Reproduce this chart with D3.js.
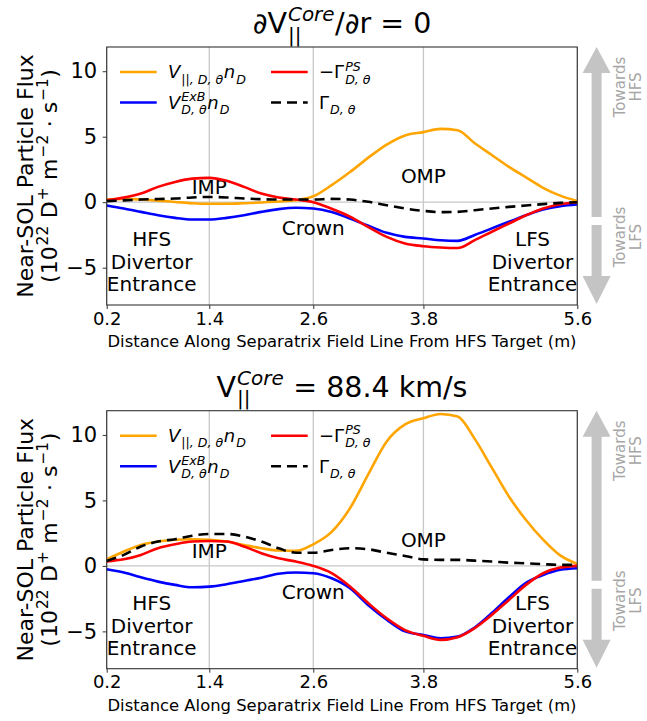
<!DOCTYPE html>
<html>
<head>
<meta charset="utf-8">
<script src="https://cdn.jsdelivr.net/npm/d3@7"></script>
<style>
  html, body { margin: 0; padding: 0; background: #fff; }
  svg { display: block; font-family: "DejaVu Sans", sans-serif; }
</style>
</head>
<body>
<svg id="chart" width="647" height="721"></svg>
<script>
// distance along separatrix (m)
const dist = [0.2, 0.4, 0.6, 0.8, 1.0, 1.2, 1.4, 1.6, 1.8, 2.0, 2.2, 2.4, 2.6, 2.8,
              3.0, 3.2, 3.4, 3.6, 3.8, 4.0, 4.2, 4.4, 4.6, 4.8, 5.0, 5.2, 5.4, 5.6];

// top panel: dV/dr = 0
const parFluxA = [0.2, 0.25, 0.2, 0.12, 0.02, -0.08, -0.12, -0.12, -0.08, -0.02, 0.05, 0.15, 0.45, 1.3,
                  2.3, 3.4, 4.4, 5.1, 5.35, 5.6, 5.5, 4.5, 3.6, 2.7, 1.9, 1.1, 0.5, 0.1];
const exbFluxA = [-0.25, -0.48, -0.74, -1.0, -1.2, -1.32, -1.32, -1.2, -1.0, -0.74, -0.53, -0.43, -0.48, -0.74,
                  -1.25, -1.8, -2.34, -2.65, -2.77, -2.9, -2.95, -2.5, -2.0, -1.5, -1.0, -0.56, -0.3, -0.18];
const psFluxA  = [0.15, 0.35, 0.66, 1.17, 1.55, 1.8, 1.86, 1.63, 1.17, 0.66, 0.36, 0.2, 0.0, -0.5,
                  -1.1, -1.9, -2.65, -3.15, -3.36, -3.46, -3.5, -2.9, -2.26, -1.63, -1.0, -0.48, -0.15, 0.0];
const totFluxA = [0.08, 0.14, 0.2, 0.24, 0.28, 0.36, 0.4, 0.36, 0.28, 0.23, 0.2, 0.2, 0.2, 0.25,
                  0.2, 0.03, -0.23, -0.48, -0.66, -0.76, -0.74, -0.61, -0.48, -0.36, -0.25, -0.15, -0.05, 0.0];

// bottom panel: V core = 88.4 km/s
const parFluxB = [0.5, 1.1, 1.6, 1.86, 2.0, 2.04, 2.0, 1.86, 1.6, 1.35, 1.17, 1.15, 1.65, 2.6,
                  4.4, 7.0, 9.5, 10.8, 11.27, 11.6, 11.4, 9.7, 7.5, 5.3, 3.5, 2.0, 0.8, 0.15];
const exbFluxB = [-0.25, -0.5, -0.87, -1.2, -1.45, -1.63, -1.58, -1.4, -1.15, -0.9, -0.6, -0.5, -0.56, -0.94,
                  -1.7, -3.0, -4.1, -5.0, -5.27, -5.52, -5.4, -4.7, -3.6, -2.4, -1.3, -0.7, -0.3, -0.18];
const psFluxB  = [0.33, 0.5, 0.84, 1.35, 1.65, 1.86, 1.9, 1.86, 1.48, 0.97, 0.58, 0.33, 0.0, -0.56,
                  -1.58, -2.85, -4.0, -4.9, -5.34, -5.65, -5.45, -4.75, -3.74, -2.6, -1.45, -0.56, -0.13, 0.0];
const totFluxB = [0.38, 0.84, 1.48, 1.86, 2.04, 2.3, 2.44, 2.44, 2.24, 1.86, 1.35, 1.0, 1.0, 1.22,
                  1.35, 1.27, 1.0, 0.76, 0.5, 0.46, 0.46, 0.4, 0.33, 0.25, 0.2, 0.13, 0.08, 0.08];

const xTicks = [0.2, 1.4, 2.6, 3.8, 5.6];
const yTicks = [-5, 0, 5, 10];

// annotation labels (x in m, y = text centre in flux units)
const regionLabels = [
  {lines: ["IMP"], x: 1.4, y: 1.17},
  {lines: ["OMP"], x: 3.8, y: 1.98},
  {lines: ["Crown"], x: 2.6, y: -1.98},
  {lines: ["HFS", "Divertor", "Entrance"], x: 0.726, y: -2.83},
  {lines: ["LFS", "Divertor", "Entrance"], x: 5.076, y: -2.83}
];

const panels = [
  {title: [{t: "∂V"}, {sub: "||", subIt: false, sup: "Core"}, {t: "/∂r = 0"}],
   series: [parFluxA, exbFluxA, psFluxA, totFluxA]},
  {title: [{t: "V"}, {sub: "||", subIt: false, sup: "Core"}, {t: " = 88.4 km/s"}],
   series: [parFluxB, exbFluxB, psFluxB, totFluxB]}
];

const seriesStyle = [
  {color: "orange", dash: null, label: [{t: "V", it: true}, {sub: "||, D, θ"}, {t: "n", it: true}, {sub: "D"}]},
  {color: "blue", dash: null, label: [{t: "V", it: true}, {sub: "D, θ", sup: "ExB"}, {t: "n", it: true}, {sub: "D"}]},
  {color: "red", dash: null, label: [{t: "−Γ"}, {sub: "D, θ", sup: "PS"}]},
  {color: "black", dash: "10,6", label: [{t: "Γ"}, {sub: "D, θ"}]}
];

// layout
const left = 106.7, plotW = 470.6, plotH = 258;
const tops = [47, 410.7];
const xBreakFrac = [0, 0.218, 0.439, 0.673, 1];
const gridColor = "#c8c8c8";

const svg = d3.select("#chart");

const nb = s => s.replace(/ /g, "\u00a0");

// lays out text with stacked sub/superscripts, returns group
function mathLabel(parent, x, y, items, size, anchor) {
  const g = parent.append("g");
  let cx = 0;
  items.forEach(it => {
    if (it.t !== undefined) {
      const t = g.append("text").attr("x", cx).attr("y", 0)
        .attr("font-size", size)
        .attr("font-style", it.it ? "italic" : "normal")
        .attr("fill", "#000")
        .text(nb(it.t));
      cx += t.node().getComputedTextLength();
    } else {
      let w = 0;
      if (it.sup) {
        const s = g.append("text").attr("x", cx + 1).attr("y", -size * 0.42)
          .attr("font-size", size * 0.7)
          .attr("font-style", it.supIt === false ? "normal" : "italic")
          .text(nb(it.sup));
        w = Math.max(w, s.node().getComputedTextLength() + 1.5);
      }
      if (it.sub) {
        const s = g.append("text").attr("x", cx + 1).attr("y", size * 0.3)
          .attr("font-size", size * 0.7)
          .attr("font-style", it.subIt === false ? "normal" : "italic")
          .text(nb(it.sub));
        w = Math.max(w, s.node().getComputedTextLength() + 1.5);
      }
      cx += w;
    }
  });
  const shift = anchor === "middle" ? -cx / 2 : (anchor === "end" ? -cx : 0);
  g.attr("transform", "translate(" + (x + shift) + "," + y + ")");
  return g;
}

const x = d3.scaleLinear()
  .domain(xTicks)
  .range(xBreakFrac.map(f => left + f * plotW));

panels.forEach((p, pi) => {
  const top = tops[pi];
  const bottom = top + plotH;
  const y = d3.scaleLinear().domain([-7.85, 11.85]).range([bottom, top]);
  const g = svg.append("g");

  // grid
  g.selectAll(".vgrid").data(xTicks).enter().append("line")
    .attr("x1", d => x(d)).attr("x2", d => x(d))
    .attr("y1", top).attr("y2", bottom)
    .attr("stroke", gridColor).attr("stroke-width", 1.3);
  g.append("line")
    .attr("x1", left).attr("x2", left + plotW)
    .attr("y1", y(0)).attr("y2", y(0))
    .attr("stroke", gridColor).attr("stroke-width", 1.3);

  // region labels
  regionLabels.forEach(r => {
    r.lines.forEach((ln, li) => {
      g.append("text")
        .attr("x", x(r.x))
        .attr("y", y(r.y) + li * 22.5)
        .attr("dy", "0.36em")
        .attr("text-anchor", "middle")
        .attr("font-size", 20)
        .text(ln);
    });
  });

  // lines
  const line = d3.line()
    .x((d, i) => x(dist[i]))
    .y(d => y(d))
    .curve(d3.curveMonotoneX);
  p.series.forEach((vals, si) => {
    const st = seriesStyle[si];
    g.append("path")
      .datum(vals)
      .attr("d", line)
      .attr("fill", "none")
      .attr("stroke", st.color)
      .attr("stroke-width", 2.6)
      .attr("stroke-dasharray", st.dash);
  });

  // frame
  g.append("rect")
    .attr("x", left).attr("y", top)
    .attr("width", plotW).attr("height", plotH)
    .attr("fill", "none").attr("stroke", "#333").attr("stroke-width", 1.1);

  // axes
  const xAxis = g.append("g")
    .attr("transform", "translate(0," + bottom + ")")
    .call(d3.axisBottom(x).tickValues(xTicks).tickFormat(d3.format(".1f")).tickSize(4).tickSizeOuter(0));
  xAxis.select(".domain").remove();
  xAxis.selectAll("text").attr("font-size", 18).attr("font-family", "DejaVu Sans")
    .attr("fill", "#000").attr("y", 7).attr("dy", "0.71em");
  xAxis.selectAll("line").attr("stroke", "#333");

  const yAxis = g.append("g")
    .attr("transform", "translate(" + left + ",0)")
    .call(d3.axisLeft(y).tickValues(yTicks).tickSize(4).tickSizeOuter(0));
  yAxis.select(".domain").remove();
  yAxis.selectAll("text").attr("font-size", 21).attr("font-family", "DejaVu Sans")
    .attr("fill", "#000").attr("x", -9.5);
  yAxis.selectAll("line").attr("stroke", "#333");

  // x label
  g.append("text")
    .attr("x", left + plotW / 2).attr("y", bottom + 42)
    .attr("text-anchor", "middle").attr("font-size", 16.4)
    .text("Distance Along Separatrix Field Line From HFS Target (m)");

  // y label
  const yl = g.append("g").attr("transform", "translate(33," + (top + 129) + ") rotate(-90)");
  yl.append("text").attr("text-anchor", "middle").attr("font-size", 22)
    .text("Near-SOL Particle Flux");
  const yl2 = g.append("g").attr("transform", "translate(57," + (top + 129) + ") rotate(-90)");
  mathLabel(yl2, 0, 0, [
    {t: "(10"}, {sup: "22", supIt: false}, {t: " D"}, {sup: "+", supIt: false},
    {t: " m"}, {sup: "−2", supIt: false}, {t: " · s"}, {sup: "−1", supIt: false}, {t: ")"}
  ], 22, "middle");

  // title
  mathLabel(g, left + plotW / 2, top - 14, p.title, 28.5, "middle");

  // legend
  seriesStyle.forEach((st, si) => {
    const col = Math.floor(si / 2), row = si % 2;
    const lx = left + 13.3 + col * 151;
    const ly = top + 25 + row * 30.5;
    g.append("line")
      .attr("x1", lx).attr("x2", lx + 36.7)
      .attr("y1", ly).attr("y2", ly)
      .attr("stroke", st.color).attr("stroke-width", 2.6)
      .attr("stroke-dasharray", st.dash);
    mathLabel(g, lx + 48, ly + 6.3, st.label, 18, "start");
  });

  // direction arrows
  const ax = left + plotW + 19.3;
  const arrowColor = "#c4c4c4";
  const up = [[ax, top], [ax + 14, top + 26], [ax + 5, top + 26], [ax + 5, top + 170],
              [ax - 5, top + 170], [ax - 5, top + 26], [ax - 14, top + 26]];
  const down = [[ax, top + 257], [ax + 14, top + 229], [ax + 5, top + 229], [ax + 5, top + 178],
                [ax - 5, top + 178], [ax - 5, top + 229], [ax - 14, top + 229]];
  [up, down].forEach(pts => {
    g.append("path").attr("d", "M" + pts.join("L") + "Z").attr("fill", arrowColor);
  });
  const dirText = [{lines: ["Towards", "HFS"], cy: top + 40}, {lines: ["Towards", "LFS"], cy: top + 190}];
  dirText.forEach(dt => {
    dt.lines.forEach((ln, li) => {
      g.append("text")
        .attr("transform", "translate(" + (ax + 28 + li * 16) + "," + dt.cy + ") rotate(-90)")
        .attr("text-anchor", "middle")
        .attr("font-size", 15)
        .attr("fill", "#a6a6a6")
        .text(ln);
    });
  });
});
</script>
</body>
</html>
